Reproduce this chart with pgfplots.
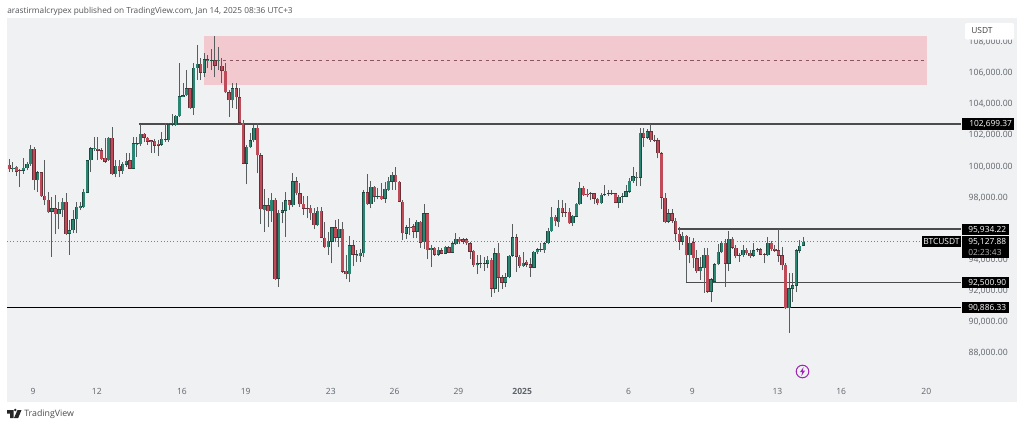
\documentclass[border=0pt]{standalone}
\usepackage{fontspec}
\setmainfont{Open Sans}
\usepackage{pgfplots}
\usepackage{pgfplotstable}
\pgfplotsset{compat=1.18}
\definecolor{panel}{HTML}{EFF1F3}
\definecolor{upbody}{HTML}{2A8672}
\definecolor{upedge}{HTML}{1C4A41}
\definecolor{dnbody}{HTML}{BF4A58}
\definecolor{dnedge}{HTML}{6A3039}
\definecolor{wick}{HTML}{585E5E}
\definecolor{zone}{HTML}{F1C9CF}
\definecolor{zoned}{HTML}{8C5560}
\definecolor{level}{HTML}{4C4C4C}
\definecolor{ticktxt}{HTML}{5F6368}
\definecolor{boltc}{HTML}{9C27B0}

% 4h candles: index, body top, body bottom, high, low
\pgfplotstableread{
i t b h l
1 99880 99780 100270 99600
4 99880 99690 100480 99480
5 100120 99840 100270 99730
6 101080 100100 101320 99990
8 99580 99070 99690 98340
12 97270 97050 98020 94160
14 97200 96880 97700 95920
15 97700 97160 97910 96730
17 95850 95640 96520 94270
18 96560 95850 97160 95660
19 97380 96560 97700 95660
20 97420 97290 97700 97160
21 98320 97330 98490 97270
22 100350 98280 100380 98230
23 101130 100350 101230 99630
24 101150 101080 101880 100980
28 101790 100350 101880 100330
30 99990 99480 100380 99260
32 100120 99670 100270 99480
33 100330 100080 100800 99950
35 101450 99820 101880 99780
36 101450 101380 101880 100590
37 102050 101400 102690 101280
43 101730 101360 102200 101280
44 101730 101680 102730 101550
45 102670 101660 102780 101550
46 102670 102620 103310 102560
47 103200 102620 103270 102560
48 104470 103200 106630 103160
49 104530 104450 105300 104400
50 104980 104530 106160 104490
52 106310 103700 106590 103290
53 106550 106270 107770 105520
55 106850 105990 107230 105730
56 106850 106780 107130 106270
57 106800 106760 107490 106160
59 106800 106740 107620 106160
63 104980 104210 105300 103700
67 101210 100140 101340 98810
68 101640 101190 102090 101130
69 102450 101640 102630 101550
72 97460 97160 98510 95750
74 97830 97080 98230 96410
76 96990 92750 97160 92230
77 97140 96990 97700 96300
78 97780 97120 98340 95450
80 99000 97460 99520 97380
87 97100 96170 97330 96130
90 95170 94780 95770 94270
91 96050 95120 96090 93730
93 95940 95380 96560 94760
96 94890 93050 95490 92550
98 94310 94250 94590 93840
99 94400 94200 94630 93840
100 98300 94370 98450 94120
102 98660 97520 99050 97270
104 98040 98000 98550 97850
106 98510 97890 98980 97630
107 99020 98450 99300 98400
108 99410 98980 99620 98450
112 96050 95640 96200 95270
113 96090 96020 96620 95550
115 96410 95770 96520 95340
117 96950 95080 97550 94650
119 94720 94590 94910 93520
121 94590 94290 94800 94200
123 94780 94350 94850 94310
125 95020 94420 95120 94370
126 95320 94970 95700 94930
132 93730 93600 94270 93040
133 93750 93710 94270 93410
134 93750 93710 94120 93260
135 93950 93710 94200 93410
137 94370 92100 94690 91840
140 92830 92490 93090 92190
141 94220 92830 94270 92770
142 95400 94220 96260 94160
145 93770 93560 94480 93520
148 94460 93450 94550 93410
149 94630 94440 94700 94330
150 94630 94590 95020 94480
151 95020 94570 95120 94420
152 95810 95020 95980 94970
153 96730 95810 97330 95770
155 97290 96390 97800 96050
159 96770 96300 96840 96150
160 97550 96730 97630 96690
161 98600 97520 98980 97480
167 98150 97590 98230 97540
168 98190 98150 98770 98060
169 98230 98190 98450 98060
172 98020 97630 98120 97270
173 98060 98020 98230 97590
174 98360 98020 98770 97970
175 99020 98340 99200 98270
176 99320 99000 99900 98920
177 99280 99220 99620 98700
178 102130 99240 102410 98700
180 102220 101810 102350 101700
186 96950 96410 97200 96300
190 95490 95120 95770 94910
192 95060 94250 95400 93730
195 93470 93220 94160 92660
196 94270 93430 94700 91850
198 92700 91910 92770 91250
199 93670 92550 93730 92490
200 94480 93670 94980 93600
201 95060 94440 95190 94370
203 95320 93710 95830 93220
207 94590 94250 94910 94160
210 94570 94220 95060 94160
211 94630 94590 94700 94480
214 95060 94250 95450 94200
220 92120 90840 93090 89270
221 92320 92100 93090 91270
222 94570 92300 94630 91910
223 94870 94550 95230 94370
224 95130 94870 95450 94840
}\upc

\pgfplotstableread{
i t b h l
0 100080 99800 100420 99630
2 99930 99630 100010 99350
3 99750 99710 99800 98660
7 101080 99070 101230 98450
9 99580 98060 99630 98020
10 98060 97780 100380 97480
11 97800 97030 98340 96990
13 97270 96880 98130 95600
16 97700 95620 98230 95550
25 101100 100980 101830 100380
26 101000 100440 101130 100380
27 100500 100270 101770 100200
29 101790 99450 102520 99410
31 99990 99690 100380 99260
34 100350 99820 100800 99780
38 102050 101810 102130 101550
39 101810 101550 101880 101340
40 101640 101530 101660 100850
41 101620 101300 101700 100800
42 101400 101300 101660 100630
51 104980 103700 104980 103650
54 106550 105990 106910 105520
58 106780 106440 108370 105690
60 106440 106120 106910 105300
61 106120 104730 106590 104660
62 104730 104210 104880 103160
64 104980 104400 105300 103630
65 104400 102780 104980 102730
66 102780 100140 102950 100100
70 102450 100680 102730 99520
71 100680 97200 100800 96260
73 97460 97080 97910 96050
75 97830 92730 97910 92660
79 97780 97460 97800 97160
81 99000 98230 99300 98120
82 98230 97520 98880 97380
83 97550 97250 98060 96840
84 97270 97220 98040 96620
85 97290 96950 97480 96520
86 96990 96200 97270 95920
88 97100 95380 97330 95340
89 95380 94780 96410 94690
92 96050 95380 96520 95120
94 95940 93200 96410 93130
95 93240 93020 94270 92700
97 94890 94290 95230 93560
101 98300 97550 99470 97500
103 98660 98020 98700 97700
105 98060 97870 98870 97800
109 99410 98960 99950 98450
110 98960 97700 99050 97650
111 97700 95660 97800 95230
114 96110 95770 96260 95340
116 96410 95060 96470 94700
118 96950 94590 96990 93990
120 94720 94290 94800 94200
122 94570 94350 94700 94310
124 94760 94420 94850 94370
127 95320 95150 95400 94970
128 95270 95120 95340 94970
129 95270 95020 95340 94910
130 95020 94480 95120 93990
131 94520 93600 94590 93520
136 93950 92100 94050 91590
138 94400 92810 95020 91910
139 92830 92490 92980 92080
143 95400 94160 95620 93200
144 94160 93560 94270 93410
146 93840 93650 93950 93480
147 93670 93450 94050 92870
154 96730 96430 96840 96130
156 97290 96990 97800 96690
157 97030 96990 97590 96730
158 97030 96300 97270 96260
162 98570 98120 98700 98060
163 98210 98150 98490 97970
164 98230 98190 98340 97800
165 98230 97890 98270 97540
166 97890 97590 97910 97480
170 98230 98190 98450 98100
171 98230 97630 98270 97590
179 102130 101810 102410 101230
181 102220 101660 102690 101550
182 101680 101640 101980 101550
183 101640 100800 101770 100480
184 100800 97950 100910 97200
185 97950 96390 98270 96300
187 96950 96470 97250 96350
188 96470 95640 96620 95190
189 95640 95120 96050 94590
191 95490 94250 95550 92550
193 95080 94050 95340 93410
194 94050 93220 94590 93090
197 94270 91910 94700 91850
202 95060 93710 95280 92230
204 95320 94740 95450 94630
205 94740 94200 94910 94050
206 94270 94220 94370 93840
208 94610 94370 94700 94270
209 94420 94200 94590 94050
212 94630 94290 94700 94250
213 94330 94290 94420 93730
215 95060 94630 95190 94550
216 94670 94550 94910 94480
217 94570 94220 95920 93840
218 94240 93600 94800 93300
219 93620 90840 93730 90770
}\dnc

\pgfplotsset{
  wickbar/.style={draw=none,mark=none,forget plot,
    error bars/.cd,y dir=plus,y explicit,error mark=none,
    error bar style={line width=0.75pt,color=wick}},
  bodybar/.style 2 args={draw=none,mark=none,forget plot,
    error bars/.cd,y dir=plus,y explicit,error mark=none,
    error bar style={line width=#1,color=#2}},
}

\begin{document}
\begin{tikzpicture}
\begin{scope}[x=0.75pt,y=-0.75pt]
  \fill[white] (0,0) rectangle (1024,426);
  \fill[panel] (7,18) rectangle (1017,402);
  \coordinate (sw) at (7,382);
  \node[anchor=west,inner sep=0pt,font=\fontsize{6.2}{7}\selectfont,text=ticktxt!85!black] at (7,11)
    {arastirmalcrypex published on TradingView.com, Jan 14, 2025 08:36 UTC+3};
\end{scope}

\begin{axis}[
  at={(sw)},anchor=south west,
  scale only axis,width=715.5pt,height=273pt,
  xmin=-0.657,xmax=268.5,ymin=86103,ymax=109504,
  axis line style={draw=none},tick style={draw=none},
  xtick={6.7,24.7,48.7,66.7,90.7,108.7,126.7,144.7,174.7,192.7,216.7,234.7,258.7},
  xticklabels={9,12,16,19,23,26,29,\textbf{2025},6,9,13,16,20},
  xticklabel style={font=\fontsize{6.4}{7}\selectfont,text=ticktxt,yshift=-1.5pt},
  ytick={88000,90000,92000,94000,96000,98000,100000,102000,104000,106000,108000},
  yticklabel pos=right,scaled y ticks=false,
  yticklabel style={font=\fontsize{6.5}{8}\selectfont,text=ticktxt,anchor=west,inner sep=0pt,xshift=5.5pt,yshift=-0.5pt,
    /pgf/number format/fixed,/pgf/number format/fixed zerofill,/pgf/number format/precision=2,
    /pgf/number format/1000 sep={,},/pgf/number format/assume math mode=true},
]
% supply zone
\addplot[fill=zone,draw=none,forget plot] coordinates {(54.9,105196)(258.9,105196)(258.9,108379)(54.9,108379)} -- cycle;
\addplot[zoned,dash pattern=on 2.4pt off 2.4pt,line width=0.6pt,forget plot] coordinates {(54.9,106804)(258.9,106804)};
% last price
\addplot[gray,dotted,line width=0.4pt,forget plot] coordinates {(-0.657,95127.88)(268.5,95127.88)};
% levels
\addplot[level,line width=1.1pt,forget plot] coordinates {(36.7,102699.37)(268.5,102699.37)};
\addplot[level,line width=1.1pt,forget plot] coordinates {(188.7,95934.22)(268.5,95934.22)};
\addplot[level,line width=1.1pt,forget plot] coordinates {(190.9,92500.90)(268.5,92500.90)};
\addplot[black,line width=1.1pt,forget plot] coordinates {(-0.657,90886.33)(268.5,90886.33)};
% wicks
\addplot[wickbar] table[x=i,y=l,y error plus expr=\thisrow{h}-\thisrow{l}] {\upc};
\addplot[wickbar] table[x=i,y=l,y error plus expr=\thisrow{h}-\thisrow{l}] {\dnc};
% bodies, dark edge then colour
\addplot[bodybar={2.5pt}{upedge}] table[x=i,y=b,y error plus expr=\thisrow{t}-\thisrow{b}] {\upc};
\addplot[bodybar={2.5pt}{dnedge}] table[x=i,y=b,y error plus expr=\thisrow{t}-\thisrow{b}] {\dnc};
\addplot[bodybar={1.7pt}{upbody}] table[x=i,y expr=\thisrow{b}+25,y error plus expr={max(\thisrow{t}-\thisrow{b}-50,0)}] {\upc};
\addplot[bodybar={1.7pt}{dnbody}] table[x=i,y expr=\thisrow{b}+25,y error plus expr={max(\thisrow{t}-\thisrow{b}-50,0)}] {\dnc};
\end{axis}

\begin{scope}[x=0.75pt,y=-0.75pt,font=\fontsize{6.3}{8}\selectfont]
  % currency box
  \fill[white,rounded corners=1.5pt] (965,23) rectangle (1014,39.5);
  \node[anchor=west,inner sep=0pt,text=black!75] at (971,30.5) {USDT};
  % price tags
  \fill[black] (962,118) rectangle (1014,130);
  \node[anchor=west,inner sep=0pt,text=white] at (969,124) {102,699.37};
  \fill[black] (962,224) rectangle (1009,235);
  \node[anchor=west,inner sep=0pt,text=white] at (968,229.5) {95,934.22};
  \fill[black] (962,236) rectangle (1009,258);
  \node[anchor=west,inner sep=0pt,text=white] at (968,241.5) {95,127.88};
  \node[anchor=west,inner sep=0pt,text=white!70!black] at (968,252.5) {02:23:43};
  \fill[black] (922,236) rectangle (961,247);
  \node[anchor=center,inner sep=0pt,text=white] at (941.5,241.5) {BTCUSDT};
  \fill[black] (962,277) rectangle (1009,288);
  \node[anchor=west,inner sep=0pt,text=white] at (968,282.5) {92,500.90};
  \fill[black] (962,302) rectangle (1009,313);
  \node[anchor=west,inner sep=0pt,text=white] at (968,307.5) {90,886.33};
  % alert icon
  \draw[boltc,line width=0.75pt] (802.5,371.5) circle (6.3);
  \fill[boltc] (803.5,367) -- (800,372.2) -- (802.2,372.2) -- (801.4,376) -- (805,370.7) -- (802.8,370.7) -- cycle;
  % logo
  \fill[black!85] (7,410) -- (13.5,410) -- (13.5,418) -- (10,418) -- (10,413.5) -- (7,413.5) -- cycle;
  \fill[black!85] (15.2,410) circle (1.4);
  \fill[black!85] (17.5,410) -- (21.5,410) -- (18.2,418) -- (14,418) -- cycle;
  \node[anchor=west,inner sep=0pt,font=\fontsize{6.6}{8}\selectfont,text=black!70] at (24,414) {TradingView};
\end{scope}
\end{tikzpicture}
\end{document}
